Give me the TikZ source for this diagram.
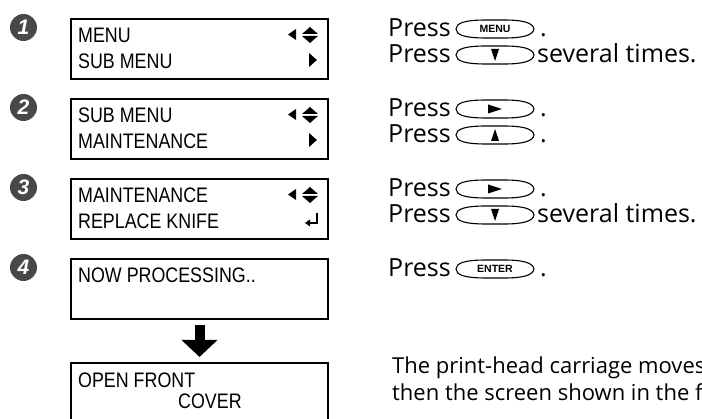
\documentclass[tikz,border=0pt]{standalone}
\usepackage{fontspec}
\setmainfont{Open Sans}
\newfontfamily\lcd[FakeStretch=0.85]{Liberation Sans}
\newfontfamily\arialf{Liberation Sans}
\usetikzlibrary{arrows.meta}
\definecolor{numgray}{RGB}{72,72,72}
\newcommand\btnshape{\draw[line width=1.1pt] (0,0) .. controls (0,-6) and (9,-9) .. (30,-9) -- (48,-9) .. controls (68,-9) and (77,-6) .. (78,0) .. controls (77,6) and (68,9) .. (48,9) -- (30,9) .. controls (9,9) and (0,6) .. cycle;}
\tikzset{
  lcdbox/.style={draw, line width=2pt, minimum width=257pt, minimum height=60pt, inner sep=0pt, anchor=north west},
  lcdtext/.style={anchor=base west, inner sep=0pt, font=\lcd\fontsize{21}{24}\selectfont},
  presstext/.style={anchor=base west, inner sep=0pt, font=\fontsize{25}{28}\selectfont},
  notetext/.style={anchor=base west, inner sep=0pt, font=\fontsize{22}{25}\selectfont},
  num/.style={circle, fill=numgray, minimum size=27pt, inner sep=0pt, text=white, font=\arialf\bfseries\itshape\fontsize{21}{21}\selectfont},
  btnlabel/.style={inner sep=0pt, font=\arialf\bfseries\fontsize{10.5}{11}\selectfont},
  pics/btntext/.style={code={\btnshape \node[btnlabel] (-l) at (39,0) {#1};}},
  pics/btndown/.style={code={\btnshape \fill (35,-6) -- (43,-6) -- (39,6) -- cycle;}},
  pics/btnup/.style={code={\btnshape \fill (35,6) -- (43,6) -- (39,-6) -- cycle;}},
  pics/btnright/.style={code={\btnshape \fill (32,-4.5) -- (32,4.5) -- (46,0) -- cycle;}},
}
\begin{document}
\begin{tikzpicture}[x=1pt,y=-1pt]
\useasboundingbox (0,0) rectangle (702,419);
\clip (0,0) rectangle (702,419);
\fill[white] (0,0) rectangle (702,419);

% step numbers
\node[num] (n1) at (23.5,27.5) {1};
\node[num] (n2) at (23.5,107.5) {2};
\node[num] (n3) at (23.5,187.5) {3};
\node[num] (n4) at (23.5,267.5) {4};

% LCD boxes
\node[lcdbox] (b1) at (70,18) {};
\node[lcdbox] (b2) at (70,98) {};
\node[lcdbox] (b3) at (70,178) {};
\node[lcdbox] (b4) at (70,258) {};
\node[lcdbox] (b5) at (70,362) {};

\node[lcdtext] (t1a) at (78,42.5) {MENU};
\node[lcdtext] (t1b) at (78,68.5) {SUB MENU};
\node[lcdtext] (t2a) at (78,122.5) {SUB MENU};
\node[lcdtext] (t2b) at (78,148.5) {MAINTENANCE};
\node[lcdtext] (t3a) at (78,202.5) {MAINTENANCE};
\node[lcdtext] (t3b) at (78,228.5) {REPLACE KNIFE};
\node[lcdtext] (t4a) at (78,282.5) {NOW PROCESSING..};
\node[lcdtext] (t5a) at (78,387.5) {OPEN FRONT};
\node[lcdtext] (t5b) at (178,409) {COVER};

% symbols in boxes
\foreach \T in {18,98,178}{
  \fill (288,\T+16.5) -- (296,\T+11) -- (296,\T+22) -- cycle;
  \fill (302,\T+16) -- (318,\T+16) -- (310,\T+9) -- cycle;
  \fill (302,\T+18) -- (318,\T+18) -- (310,\T+25) -- cycle;
}
\foreach \T in {18,98}{
  \fill (309,\T+35) -- (309,\T+49) -- (317,\T+42) -- cycle;
}
\draw[line width=1.2pt] (317,213) -- (317,223) -- (309,223);
\fill (305,223) -- (310,219.5) -- (310,226.5) -- cycle;

% arrow
\draw[line width=10pt, -{Triangle[width=35pt,length=17pt]}] ([yshift=-5pt]b4.south) -- ([yshift=5pt]b5.north);

% right-hand instructions
\node[presstext] (p1a) at (388,37) {Press};
\pic (k1a) at (456,29) {btntext={MENU}};
\node[presstext] (d1a) at (540,37) {.};
\node[presstext] (p1b) at (388,63) {Press};
\pic (k1b) at (456,55) {btndown};
\node[presstext] (d1b) at (537,63) {several times.};

\node[presstext] (p2a) at (388,117) {Press};
\pic (k2a) at (456,109) {btnright};
\node[presstext] (d2a) at (540,117) {.};
\node[presstext] (p2b) at (388,143) {Press};
\pic (k2b) at (456,135) {btnup};
\node[presstext] (d2b) at (540,143) {.};

\node[presstext] (p3a) at (388,197) {Press};
\pic (k3a) at (456,189) {btnright};
\node[presstext] (d3a) at (540,197) {.};
\node[presstext] (p3b) at (388,223) {Press};
\pic (k3b) at (456,215) {btndown};
\node[presstext] (d3b) at (537,223) {several times.};

\node[presstext] (p4a) at (388,277) {Press};
\pic (k4a) at (456,269) {btntext={ENTER}};
\node[presstext] (d4a) at (540,277) {.};

\node[notetext] (m1) at (392,374) {The print-head carriage moves};
\node[notetext] (m2) at (392,401) {then the screen shown in the f};
\end{tikzpicture}
\end{document}
